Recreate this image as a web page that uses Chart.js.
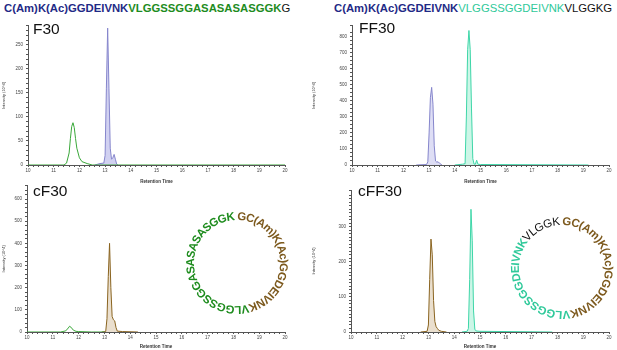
<!DOCTYPE html>
<html>
<head>
<meta charset="utf-8">
<script src="https://cdn.jsdelivr.net/npm/chart.js@4.4.0/dist/chart.umd.min.js"></script>
<style>
  body { margin: 0; background: #fff; }
  #wrap { position: relative; width: 617px; height: 350px; overflow: hidden; font-family: "Liberation Sans", Arial, sans-serif; }
  canvas { position: absolute; }
  .hdr { position: absolute; top: 2px; font-size: 11.3px; white-space: nowrap; letter-spacing: 0; }
  .lbl { position: absolute; font-size: 15.5px; color: #111; }
  svg { position: absolute; left: 0; top: 0; }
  .navy { color: #1f2a86; font-weight: bold; }
  .grn { color: #1e8c1e; font-weight: bold; }
  .teal { color: #2fc99a; }
  .blk { color: #111; }
</style>
</head>
<body>
<div id="wrap">
  <div class="hdr" style="left:4px"><span class="navy">C(Am)K(Ac)GGDEIVNK</span><span class="grn">VLGGSSGGASASASASGGK</span><span class="blk">G</span></div>
  <div class="hdr" style="left:334px"><span class="navy">C(Am)K(Ac)GGDEIVNK</span><span class="teal">VLGGSSGGDEIVNK</span><span class="blk">VLGGKG</span></div>

  <canvas id="f30" width="300" height="165" style="left:0px;top:20px"></canvas>
  <canvas id="ff30" width="307" height="165" style="left:310px;top:20px"></canvas>
  <canvas id="cf30" width="300" height="170" style="left:0px;top:180px"></canvas>
  <canvas id="cff30" width="307" height="170" style="left:310px;top:180px"></canvas>

  <div class="lbl" style="left:33px;top:20px">F30</div>
  <div class="lbl" style="left:359px;top:19px">FF30</div>
  <div class="lbl" style="left:33px;top:182px">cF30</div>
  <div class="lbl" style="left:358px;top:182px">cFF30</div>

  <svg width="617" height="350">
    <defs>
      <path id="ring1" d="M237,220 A43,43 0 1 1 237,306 A43,43 0 1 1 237,220"/>
      <path id="ring2" d="M562,225 A43,43 0 1 1 562,311 A43,43 0 1 1 562,225"/>
    </defs>
    <text font-family="Liberation Sans, Arial" font-size="11.5" font-weight="bold">
      <textPath href="#ring1" textLength="268" lengthAdjust="spacing"><tspan fill="#7d5a1e">GC(Am)K(Ac)GGDEIVNK</tspan><tspan fill="#1e8c1e">VLGGSSGGASASASASGGK</tspan></textPath>
    </text>
    <text font-family="Liberation Sans, Arial" font-size="11.5" font-weight="bold">
      <textPath href="#ring2" textLength="268" lengthAdjust="spacing"><tspan fill="#7d5a1e">GC(Am)K(Ac)GGDEIVNK</tspan><tspan fill="#2fc99a">VLGGSSGGDEIVNK</tspan><tspan fill="#111" font-weight="normal">VLGGK</tspan></textPath>
    </text>
  </svg>
</div>
<script>
// retention time (min) / intensity (10^4)
var f30GreenT = [10, 11.4, 11.5, 11.6, 11.65, 11.7, 11.75, 11.8, 11.85, 11.9, 12.0, 12.1, 12.3, 12.5, 20];
var f30GreenY = [0, 0, 4, 25, 55, 80, 88, 78, 55, 35, 15, 7, 3, 0, 0];
var f30BlueT = [12.6, 12.8, 12.95, 13.0, 13.05, 13.1, 13.15, 13.2, 13.25, 13.3, 13.35, 13.4, 13.45, 13.5];
var f30BlueY = [0, 3, 4, 20, 160, 285, 160, 35, 12, 15, 22, 12, 2, 0];

var ff30BlueT = [12.5, 12.9, 12.95, 13.0, 13.05, 13.1, 13.15, 13.2, 13.25, 13.3, 13.35, 13.4, 13.5];
var ff30BlueY = [0, 3, 20, 200, 420, 485, 380, 120, 25, 18, 20, 12, 0];
var ff30TealT = [14.0, 14.3, 14.4, 14.45, 14.5, 14.55, 14.6, 14.65, 14.7, 14.75, 14.8, 14.85, 14.9, 15.0, 19.2];
var ff30TealY = [0, 5, 8, 300, 720, 840, 720, 350, 40, 5, 5, 30, 5, 3, 0];

var cf30GreenT = [10, 11.3, 11.5, 11.6, 11.65, 11.7, 11.8, 11.9, 12.0, 12.5, 13.0];
var cf30GreenY = [0, 0, 5, 18, 26, 22, 8, 3, 2, 0, 0];
var cf30BrownT = [12.9, 13.05, 13.1, 13.15, 13.2, 13.25, 13.3, 13.35, 13.4, 13.45, 13.5, 13.7, 14.3];
var cf30BrownY = [0, 2, 60, 250, 400, 200, 70, 55, 50, 20, 4, 2, 0];

var cff30BrownT = [12.7, 12.95, 13.0, 13.05, 13.1, 13.15, 13.2, 13.25, 13.3, 13.35, 13.4, 13.5, 13.7];
var cff30BrownY = [0, 2, 20, 150, 265, 220, 90, 30, 15, 10, 5, 2, 0];
var cff30TealT = [14.3, 14.5, 14.55, 14.6, 14.65, 14.7, 14.75, 14.8, 14.85, 15.0, 17.8];
var cff30TealY = [0, 2, 10, 150, 350, 260, 60, 8, 3, 2, 0];

var xTicks = [10, 11, 12, 13, 14, 15, 16, 17, 18, 19, 20];

var green = '#3aa83a', blue = '#8686cc', teal = '#3ed6a8', brown = '#8a6420';

function pts(t, y) {
    return t.map(function (v, i) { return { x: v, y: y[i] }; });
}

function trace(t, y, color, fillColor) {
    return {
        data: pts(t, y),
        borderColor: color,
        borderWidth: 1,
        backgroundColor: fillColor || 'transparent',
        fill: fillColor ? 'origin' : false,
        pointRadius: 0,
        tension: 0
    };
}

function makeChart(id, datasets, yMax, yStep, yMajor, box) {
    var ctx = document.getElementById(id);
    return new Chart(ctx, {
        type: 'line',
        data: { datasets: datasets },
        options: {
            responsive: false,
            animation: false,
            layout: { padding: { left: 0, right: box.right, top: box.top, bottom: 0 } },
            plugins: { legend: { display: false }, tooltip: { enabled: false } },
            scales: {
                x: {
                    type: 'linear', min: 10, max: 20,
                    border: { color: '#555', width: 1 },
                    grid: { drawOnChartArea: false, tickLength: 2, color: '#555' },
                    ticks: {
                        stepSize: 0.2, autoSkip: false, maxTicksLimit: 1000, maxRotation: 0,
                        padding: 1, color: '#444', font: { size: 4.5 },
                        callback: function (v) { return xTicks.indexOf(Math.round(v * 100) / 100) >= 0 ? v : ''; }
                    },
                    title: { display: true, text: 'Retention Time', color: '#333', font: { size: 4.5, weight: 'bold' }, padding: 1 },
                    afterFit: function (s) { s.height = box.xh; }
                },
                y: {
                    min: 0, max: yMax,
                    border: { color: '#555', width: 1 },
                    grid: { drawOnChartArea: false, tickLength: 2, color: '#555' },
                    ticks: {
                        stepSize: yStep, autoSkip: false, maxTicksLimit: 1000,
                        padding: 3, color: '#444', font: { size: 4.5 },
                        callback: function (v) { return v % yMajor === 0 ? v : ''; }
                    },
                    title: { display: true, text: 'Intensity (10^4)', color: '#333', font: { size: 4 }, padding: 1 },
                    afterFit: function (s) { s.width = box.yw; }
                }
            }
        }
    });
}

makeChart('f30', [
    trace(f30GreenT, f30GreenY, green),
    trace(f30BlueT, f30BlueY, blue, 'rgba(190,190,235,0.7)')
], 290, 10, 50, { right: 15, top: 3, xh: 20, yw: 28 });

makeChart('ff30', [
    trace(ff30BlueT, ff30BlueY, blue, 'rgba(190,190,235,0.5)'),
    trace(ff30TealT, ff30TealY, teal, 'rgba(170,240,215,0.6)')
], 870, 25, 100, { right: 8, top: 2, xh: 20, yw: 42 });

makeChart('cf30', [
    trace(cf30GreenT, cf30GreenY, green),
    trace(cf30BrownT, cf30BrownY, brown, 'rgba(225,210,185,0.7)')
], 660, 20, 100, { right: 15, top: 5, xh: 18, yw: 27 });

makeChart('cff30', [
    trace(cff30BrownT, cff30BrownY, brown, 'rgba(225,210,185,0.7)'),
    trace(cff30TealT, cff30TealY, teal, 'rgba(170,240,215,0.6)')
], 405, 10, 100, { right: 8, top: 10, xh: 18, yw: 41 });
</script>
</body>
</html>
